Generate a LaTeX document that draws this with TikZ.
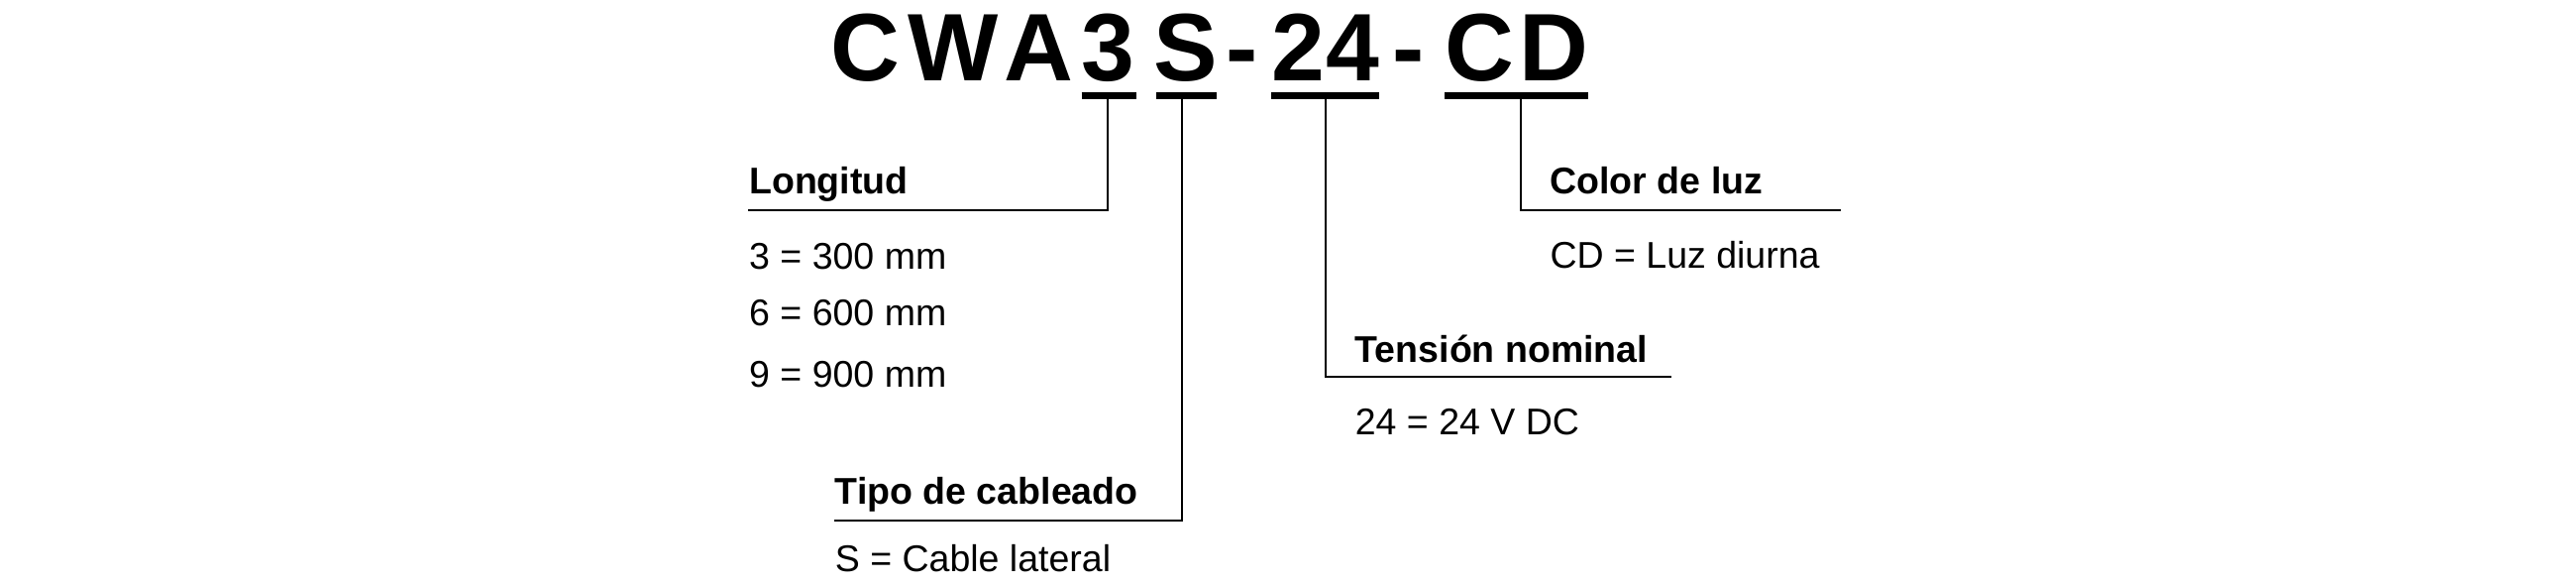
\documentclass[tikz,border=0pt]{standalone}
\usepackage{fontspec}
\setmainfont{Liberation Sans}
\begin{document}
\begin{tikzpicture}[x=0.01cm,y=-0.01cm,
  code/.style={anchor=base,inner sep=0pt,font=\fontsize{16.5}{18}\selectfont\bfseries},
  head/.style={anchor=base west,inner sep=0pt,font=\fontsize{6.4}{8}\selectfont\bfseries},
  item/.style={anchor=base west,inner sep=0pt,font=\fontsize{6.4}{8}\selectfont},
  bar/.style={line width=1.1pt},
  lead/.style={line width=0.35pt}]
  \useasboundingbox (0,0) rectangle (1560,354);
  % Model code
  \node[code] (cC) at (524,49) {C};
  \node[code] (cW) at (577,49) {W};
  \node[code] (cA) at (629,49) {A};
  \node[code] (c3) at (671,49) {3};
  \node[code] (cS) at (718,49) {S};
  \node[code] (d1) at (752,49) {-};
  \node[code] (c2) at (786,49) {2};
  \node[code] (c4) at (819,49) {4};
  \node[code] (d2) at (853,49) {-};
  \node[code] (cC2) at (896,49) {C};
  \node[code] (cD) at (941,49) {D};
  % Underlines
  \draw[bar] (655,58) -- (688,58);
  \draw[bar] (700,58) -- (737,58);
  \draw[bar] (770,58) -- (835,58);
  \draw[bar] (875,58) -- (962,58);
  % Longitud
  \coordinate (l3) at (671,127);
  \draw[lead] (671,58) -- (l3) -- (453,127);
  \node[head] (len) at (453,117) {Longitud};
  \node[item] (len3) at (453,163) {3 = 300 mm};
  \node[item] (len6) at (453,197) {6 = 600 mm};
  \node[item] (len9) at (453,234) {9 = 900 mm};
  % Tipo de cableado
  \coordinate (lS) at (716,315);
  \draw[lead] (716,58) -- (lS) -- (505,315);
  \node[head] (wire) at (505,305) {Tipo de cableado};
  \node[item] (wireS) at (505,346) {S = Cable lateral};
  % Tension nominal
  \coordinate (l24) at (803,228);
  \draw[lead] (803,58) -- (l24) -- (1012,228);
  \node[head] (volt) at (820,219) {Tensión nominal};
  \node[item] (volt24) at (820,263) {24 = 24 V DC};
  % Color de luz
  \coordinate (lCD) at (921,127);
  \draw[lead] (921,58) -- (lCD) -- (1115,127);
  \node[head] (col) at (938,117) {Color de luz};
  \node[item] (colCD) at (938,162) {CD = Luz diurna};
\end{tikzpicture}
\end{document}
